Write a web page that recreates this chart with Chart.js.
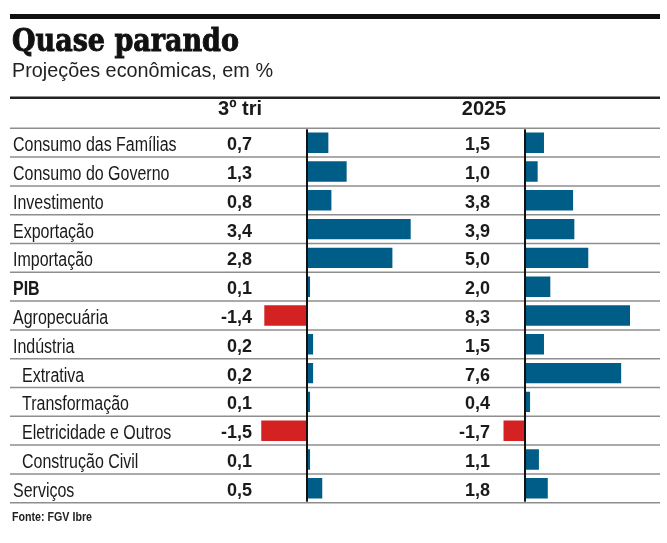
<!DOCTYPE html>
<html><head><meta charset="utf-8">
<script src="https://cdn.jsdelivr.net/npm/chart.js@4"></script>
<style>
html,body{margin:0;padding:0;background:#fff;width:667px;height:543px;overflow:hidden}
#wrap{position:relative;width:667px;height:543px}
canvas{position:absolute;left:0;top:0}
.t{position:absolute;white-space:nowrap;transform-origin:0 0;line-height:1}
#title{left:12px;top:24px;font-family:"DejaVu Serif";font-weight:bold;font-stretch:condensed;font-size:32px;color:#111;-webkit-text-stroke:0.9px #111}
#subtitle{left:12px;top:60px;font-family:"Liberation Sans";font-size:20px;color:#222}
#source{left:12px;top:511px;font-family:"Liberation Sans";font-weight:bold;font-size:12px;color:#222}
</style></head><body>
<div id="wrap">
<canvas id="c" width="667" height="543"></canvas>
<div class="t" id="title">Quase parando</div>
<div class="t" id="subtitle">Projeções econômicas, em %</div>
<div class="t" id="source">Fonte: FGV Ibre</div>
</div>
<script>
const categories = ['Consumo das Famílias','Consumo do Governo','Investimento','Exportação','Importação','PIB','Agropecuária','Indústria','Extrativa','Transformação','Eletricidade e Outros','Construção Civil','Serviços'];
const indentedRows = ['Extrativa','Transformação','Eletricidade e Outros','Construção Civil'];
const boldRows = ['PIB'];
const columnHeaders = ['3º tri','2025'];
const tri3 = [0.7,1.3,0.8,3.4,2.8,0.1,-1.4,0.2,0.2,0.1,-1.5,0.1,0.5];
const y2025 = [1.5,1.0,3.8,3.9,5.0,2.0,8.3,1.5,7.6,0.4,-1.7,1.1,1.8];

const BLUE = '#005d87', RED = '#d42222';
const fmt = v => v.toFixed(1).replace('.', ',');

function fit(id, w){ const el=document.getElementById(id); const cw=el.getBoundingClientRect().width; el.style.transform='scaleX('+(w/cw)+')'; }
fit('title', 227); fit('subtitle', 261); fit('source', 80);

function narrowText(ctx, text, x, y, sx){
  ctx.save(); ctx.translate(x, y); ctx.scale(sx, 1); ctx.fillText(text, 0, 0); ctx.restore();
}

const tablePlugin = {
  id:'table',
  beforeDatasetsDraw(chart){
    const ctx = chart.ctx, y = chart.scales.y;
    const rowH = y.getPixelForValue(1) - y.getPixelForValue(0);
    ctx.save();
    ctx.fillStyle = '#111'; ctx.fillRect(10, 14, 650, 5);
    ctx.fillStyle = '#222'; ctx.fillRect(10, 96.5, 650, 2.5);
    ctx.strokeStyle = '#8e8e8e'; ctx.lineWidth = 1.5;
    for (let i = 0; i <= categories.length; i++) {
      const py = y.getPixelForValue(i) - rowH/2;
      ctx.beginPath(); ctx.moveTo(10, py); ctx.lineTo(660, py); ctx.stroke();
    }
    ctx.fillStyle = '#1a1a1a'; ctx.font = 'bold 20px "Liberation Sans"'; ctx.textAlign = 'center'; ctx.textBaseline = 'alphabetic';
    ctx.fillText(columnHeaders[0], 240, 115);
    ctx.fillText(columnHeaders[1], 484, 115);
    categories.forEach((c, i) => {
      const cy = y.getPixelForValue(i);
      ctx.textAlign = 'left';
      ctx.font = (boldRows.includes(c) ? 'bold ' : '') + '19.5px "Liberation Sans"';
      ctx.fillStyle = '#1a1a1a';
      narrowText(ctx, c, indentedRows.includes(c) ? 22 : 13, cy + 8.5, 0.82);
      ctx.textAlign = 'right';
      ctx.font = 'bold 18px "Liberation Sans"';
      ctx.fillText(fmt(tri3[i]), 252, cy + 7.5);
      ctx.fillText(fmt(y2025[i]), 490, cy + 7.5);
    });
    ctx.restore();
  },
  afterDatasetsDraw(chart){
    const ctx = chart.ctx, a = chart.chartArea;
    ctx.save();
    ctx.fillStyle = '#111';
    ['x1','x2'].forEach(id => {
      const px = chart.scales[id].getPixelForValue(0);
      ctx.fillRect(px - 1, a.top + 1, 2, a.bottom - a.top - 2);
    });
    ctx.restore();
  }
};

new Chart(document.getElementById('c'), {
  type: 'bar',
  data: {
    labels: categories,
    datasets: [
      {data: tri3, xAxisID: 'x1', yAxisID: 'y', grouped: false, backgroundColor: c => c.raw < 0 ? RED : BLUE, barPercentage: 0.71, categoryPercentage: 1},
      {data: y2025, xAxisID: 'x2', yAxisID: 'y', grouped: false, backgroundColor: c => c.raw < 0 ? RED : BLUE, barPercentage: 0.71, categoryPercentage: 1}
    ]
  },
  options: {
    indexAxis: 'y', responsive: false, animation: false, devicePixelRatio: 1,
    layout: {padding: {left: 10, right: 7, top: 128.3, bottom: 40.3}},
    plugins: {legend: {display: false}, tooltip: {enabled: false}},
    scales: {
      y: {type: 'category', display: false},
      x1: {type: 'linear', axis: 'x', display: false, min: -9.738, max: 11.574},
      x2: {type: 'linear', axis: 'x', display: false, min: -40.71, max: 10.67}
    }
  },
  plugins: [tablePlugin]
});
</script>
</body></html>
